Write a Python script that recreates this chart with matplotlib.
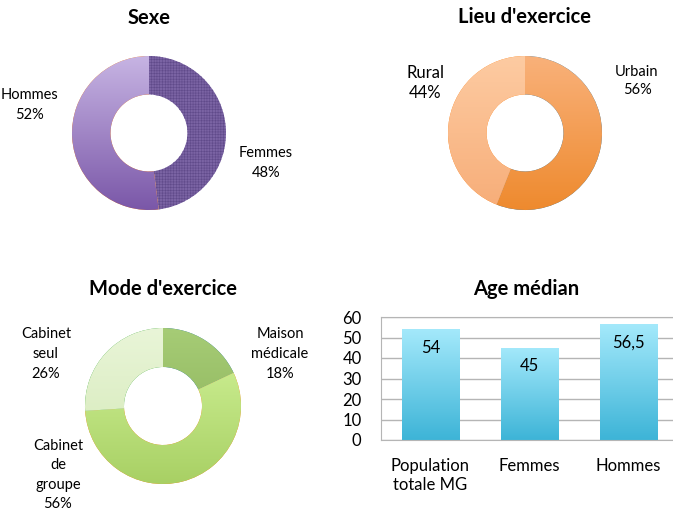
import numpy as np
import matplotlib
matplotlib.use('Agg')
import matplotlib.pyplot as plt
from matplotlib.colors import LinearSegmentedColormap

plt.rcParams['font.family'] = ['Lato', 'DejaVu Sans']
plt.rcParams['hatch.linewidth'] = 0.4

# data
sexe_labels = ['Femmes', 'Hommes']
sexe_values = [48, 52]
lieu_labels = ['Urbain', 'Rural']
lieu_values = [56, 44]
mode_labels = ['Maison\nmédicale', 'Cabinet\nde\ngroupe', 'Cabinet\nseul']
mode_values = [18, 56, 26]
age_categories = ['Population\ntotale MG', 'Femmes', 'Hommes']
age_values = [54, 45, 56.5]
age_value_labels = ['54', '45', '56,5']

W, H = 673, 524
fig = plt.figure(figsize=(W / 100, H / 100), dpi=100)


def px_axes(cx, cy, r):
    # square axes centred on a pixel position, radius r in pixels
    ax = fig.add_axes([(cx - r) / W, 1 - (cy + r) / H, 2 * r / W, 2 * r / H])
    ax.set_xlim(-1, 1)
    ax.set_ylim(-1, 1)
    ax.set_aspect('equal')
    ax.axis('off')
    return ax


def gradient_fill(ax, patch, top, bottom, extent=(-1, 1, -1, 1)):
    cmap = LinearSegmentedColormap.from_list('g', [bottom, top])
    grad = np.linspace(0, 1, 256).reshape(-1, 1)
    im = ax.imshow(grad, cmap=cmap, extent=extent, origin='lower',
                   aspect='auto', zorder=patch.get_zorder() + 0.1)
    im.set_clip_path(patch)


def donut(ax, values, colors):
    wedges, _ = ax.pie(values, startangle=90, counterclock=False, radius=1,
                       wedgeprops=dict(width=0.5, edgecolor='none'))
    for w, c in zip(wedges, colors):
        if c is None:
            continue
        gradient_fill(ax, w, c[0], c[1])
    ax.set_xlim(-1, 1)
    ax.set_ylim(-1, 1)
    return wedges


def label(x, y, s, size=10.5, ls=1.5):
    fig.text(x / W, 1 - y / H, s, ha='center', va='center',
             fontsize=size, linespacing=ls)


def title(x, y, s):
    fig.text(x / W, 1 - y / H, s, ha='center', va='center',
             fontsize=14.5, fontweight='bold')


# Sexe
ax1 = px_axes(149, 133, 77)
w = donut(ax1, sexe_values, [None, ('#c7b4e3', '#7a57a8')])
w[0].set_facecolor('#7a63a3')
w[0].set_hatch('++++++')
w[0].set_edgecolor('#604a8a')
w[0].set_linewidth(0)
title(149, 18, 'Sexe')
label(30, 105, '%s\n%d%%' % (sexe_labels[1], sexe_values[1]))
label(266, 163, '%s\n%d%%' % (sexe_labels[0], sexe_values[0]))

# Lieu d'exercice
ax2 = px_axes(525, 133, 77)
donut(ax2, lieu_values, [('#f9b17a', '#ee8a2e'), ('#fdcba2', '#f7ad78')])
title(525, 17, "Lieu d'exercice")
label(425, 83, '%s\n%d%%' % (lieu_labels[1], lieu_values[1]), size=12, ls=1.35)
label(637, 81, '%s\n%d%%' % (lieu_labels[0], lieu_values[0]), size=10.5, ls=1.4)

# Mode d'exercice
ax3 = px_axes(163, 406, 78)
donut(ax3, mode_values, [('#a6cc76', '#86ad52'), ('#d4f59c', '#a8d064'),
                         ('#e9f5d8', '#d2e8b4')])
title(163, 289, "Mode d'exercice")
label(46, 354, '%s\n%d%%' % (mode_labels[2], mode_values[2]))
label(280, 354, '%s\n%d%%' % (mode_labels[0], mode_values[0]))
label(58, 475, '%s\n%d%%' % (mode_labels[1], mode_values[1]))

# Age médian
ax4 = fig.add_axes([381 / W, 1 - 440 / H, 297 / W, 123 / H])
x = np.arange(len(age_categories))
bars = ax4.bar(x, age_values, width=0.58, color='#7fd3ec', zorder=2)
for b in bars:
    x0 = b.get_x()
    gradient_fill(ax4, b, '#a4e9fb', '#3db4d7',
                  extent=(x0, x0 + b.get_width(), 0, b.get_height()))
ax4.set_xlim(-0.5, 2.5)
ax4.set_ylim(0, 60)
ax4.set_yticks(range(0, 61, 10))
ax4.set_xticks(x)
ax4.set_xticklabels(age_categories, fontsize=12, linespacing=1.25)
ax4.tick_params(axis='y', labelsize=12, length=0, pad=14)
ax4.tick_params(axis='x', length=0, pad=13)
ax4.grid(axis='y', color='#b5b5b5', linewidth=1, zorder=0)
ax4.set_axisbelow(True)
for s in ax4.spines.values():
    s.set_color('#b5b5b5')
for xi, v, lab in zip(x, age_values, age_value_labels):
    ax4.text(xi, v - 9, lab, ha='center', va='center', fontsize=12, zorder=5)
title(526, 289, 'Age médian')

fig.savefig('out.png', dpi=100)
